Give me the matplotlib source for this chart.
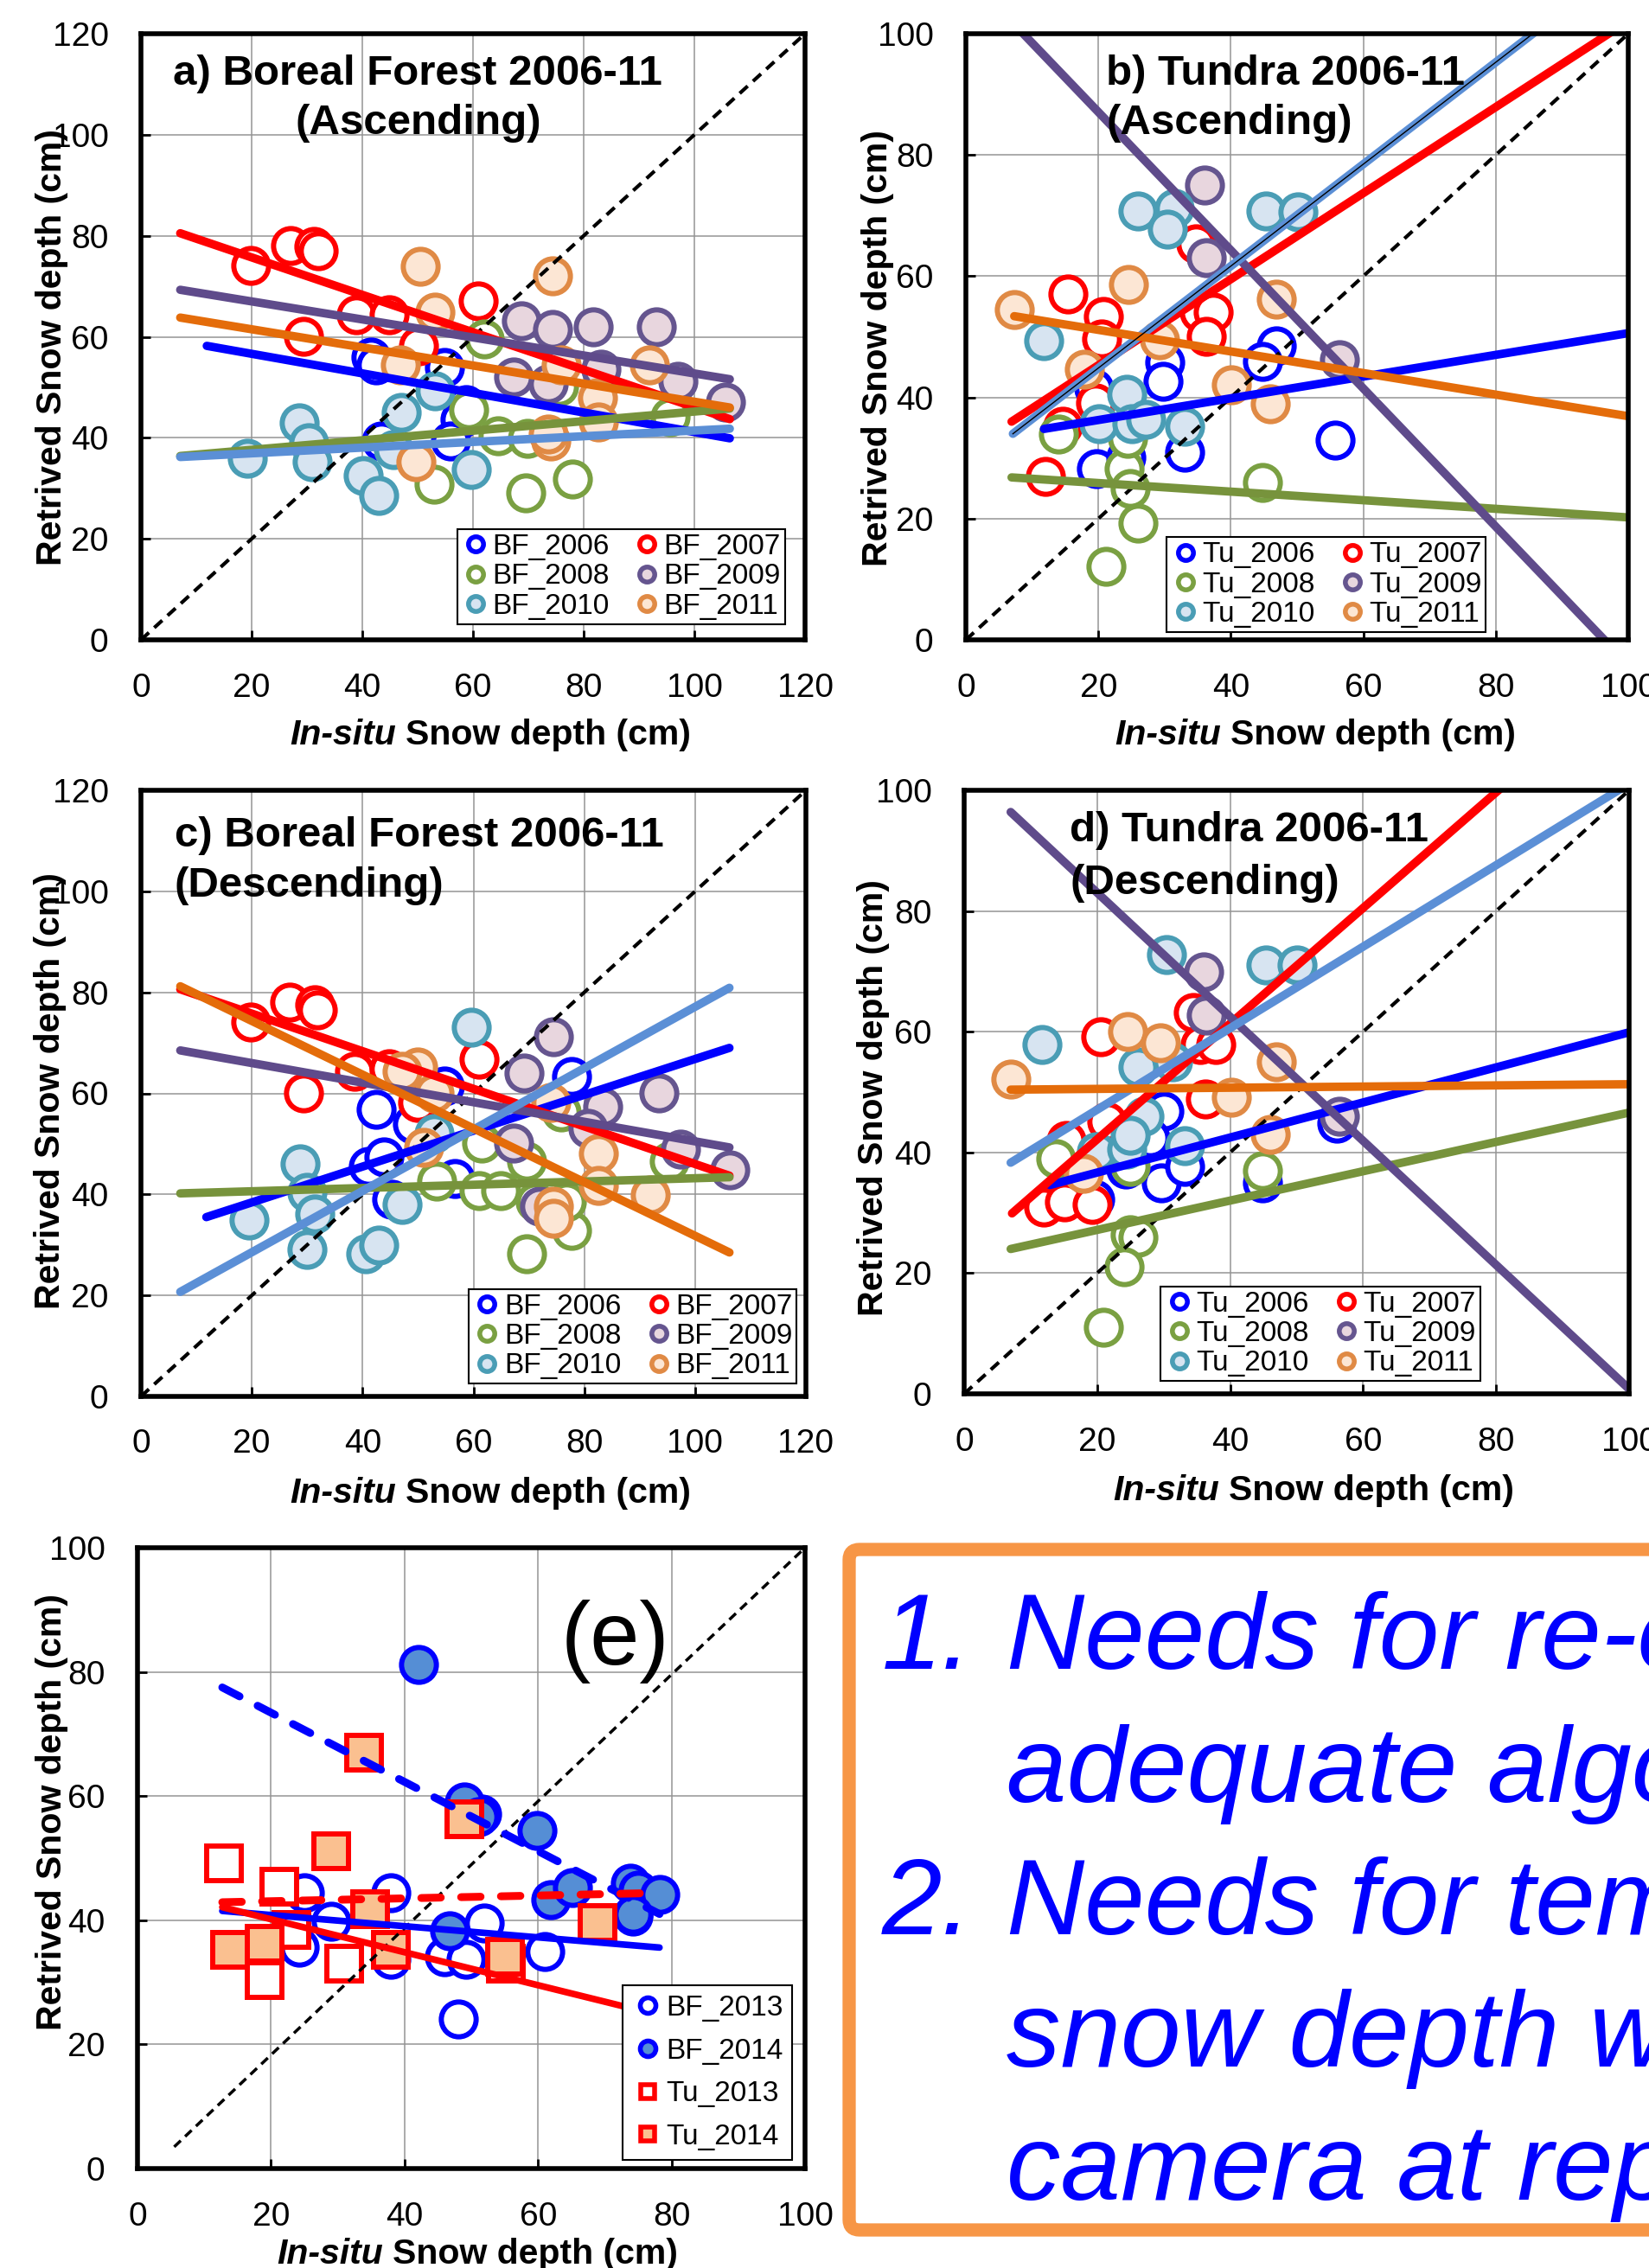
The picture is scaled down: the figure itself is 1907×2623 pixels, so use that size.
import matplotlib
matplotlib.use("Agg")
import matplotlib.pyplot as plt
from matplotlib.lines import Line2D
from matplotlib.patches import FancyBboxPatch
from matplotlib.transforms import IdentityTransform

plt.rcParams['font.family'] = ['Liberation Sans', 'DejaVu Sans']

W, H = 1907, 2623

# ---------------- data ----------------
YEARS = ['2006', '2007', '2008', '2009', '2010', '2011']

# a) Boreal Forest, ascending  (x = in-situ, y = retrieved)
A_BF2006 = [(41.5, 55.9), (42.5, 54.5), (54.9, 54.0), (58.8, 46.5), (57.6, 43.7), (55.9, 39.4), (43.4, 39.4)]
A_BF2007 = [(19.8, 74.2), (27.0, 78.1), (31.3, 77.9), (32.0, 77.0), (38.9, 64.3), (29.3, 60.1), (44.9, 64.3),
            (61.0, 67.1), (50.1, 58.2)]
A_BF2008 = [(62.1, 59.6), (59.2, 45.5), (64.5, 40.4), (69.8, 39.9), (75.5, 50.2), (53.0, 30.8), (69.6, 29.1),
            (77.9, 31.9), (95.6, 44.1)]
A_BF2009 = [(68.8, 63.1), (74.4, 61.5), (81.7, 62.0), (93.2, 62.0), (67.4, 52.1), (73.6, 50.7), (83.2, 53.5),
            (97.0, 51.2), (105.6, 47.0)]
A_BF2010 = [(28.6, 43.0), (30.3, 39.0), (31.0, 35.2), (19.2, 35.9), (40.1, 32.6), (43.0, 28.6), (47.0, 45.1),
            (53.2, 49.3), (59.7, 33.8), (45.6, 37.6)]
A_BF2011 = [(50.4, 73.9), (74.4, 72.0), (53.2, 64.8), (46.9, 54.5), (76.0, 54.5), (91.8, 54.5), (82.5, 47.9),
            (82.7, 43.2), (74.1, 39.4), (49.7, 35.2), (73.6, 40.8)]
A_FITS = [([11.9, 106.4], [58.2, 39.9]), ([7.1, 106.4], [80.5, 43.7]), ([7.1, 106.4], [36.4, 45.8]),
          ([7.1, 106.4], [69.3, 51.6]), ([7.1, 106.4], [36.2, 41.8]), ([7.1, 106.4], [63.8, 46.0])]

# b) Tundra, ascending
B_TU2006 = [(46.9, 48.5), (44.8, 46.0), (30.0, 45.8), (29.8, 42.6), (33.0, 30.9), (55.8, 33.0), (19.7, 28.2),
            (24.1, 30.1), (19.3, 41.5)]
B_TU2007 = [(15.4, 57.1), (20.7, 53.4), (20.5, 49.7), (12.0, 27.0), (14.6, 35.2), (19.6, 39.1), (34.7, 65.3),
            (35.3, 54.1), (37.3, 54.0), (36.3, 50.1)]
B_TU2008 = [(14.0, 34.0), (23.9, 28.2), (24.8, 25.0), (26.0, 19.2), (21.1, 12.1), (44.8, 26.0), (24.4, 33.3)]
B_TU2009 = [(36.0, 75.1), (36.3, 63.1), (56.4, 46.2)]
B_TU2010 = [(26.0, 70.8), (31.4, 71.2), (30.4, 67.7), (45.3, 70.8), (50.1, 70.6), (11.8, 49.3), (24.3, 40.5),
            (20.1, 35.6), (25.1, 35.6), (27.2, 36.4), (33.0, 35.2)]
B_TU2011 = [(7.3, 54.5), (24.6, 58.7), (29.3, 49.5), (17.9, 44.6), (46.9, 56.2), (40.1, 42.1), (45.9, 39.0)]
B_FITS = [([11.8, 100], [34.8, 50.6]), ([6.9, 100], [36.0, 102.1]), ([6.9, 100], [26.8, 20.2]),
          ([7.0, 97.0], [101.9, -0.7]), ([7.1, 90.0], [34.0, 103.7]), ([7.3, 100], [53.4, 36.9])]

# c) Boreal Forest, descending
C_BF2006 = [(42.4, 56.8), (54.8, 61.5), (49.0, 54.0), (41.0, 45.5), (43.8, 47.4), (56.7, 43.2), (45.3, 39.0),
            (77.7, 63.4)]
C_BF2007 = [(19.8, 74.2), (26.9, 78.1), (31.4, 77.5), (31.9, 76.5), (29.3, 60.1), (38.6, 64.3), (61.0, 66.7),
            (49.9, 58.2), (44.8, 64.8)]
C_BF2008 = [(61.5, 50.2), (53.4, 42.7), (61.0, 40.8), (64.9, 40.8), (69.6, 46.5), (71.1, 38.5), (69.6, 28.2),
            (77.7, 32.9), (76.8, 38.5), (95.4, 46.5), (75.8, 56.3)]
C_BF2009 = [(74.4, 71.2), (69.1, 64.0), (83.3, 57.3), (93.5, 60.1), (67.2, 50.2), (97.3, 49.0), (106.2, 44.9),
            (80.6, 53.1), (72.0, 37.6)]
C_BF2010 = [(59.6, 73.1), (28.7, 46.0), (30.0, 40.4), (31.4, 36.2), (19.5, 34.9), (30.0, 29.1), (40.5, 28.2),
            (42.9, 30.0), (47.2, 38.0), (52.9, 52.1)]
C_BF2011 = [(50.0, 65.3), (47.2, 64.3), (73.9, 58.2), (82.5, 48.1), (82.5, 41.8), (91.9, 39.9), (74.4, 37.6),
            (74.4, 35.2), (51.0, 49.3), (52.9, 60.1)]
C_FITS = [([11.8, 106.2], [35.5, 69.0]), ([7.1, 106.2], [80.6, 43.7]), ([7.1, 106.2], [40.2, 43.4]),
          ([7.1, 106.2], [68.5, 49.3]), ([7.1, 106.2], [20.7, 80.9]), ([7.1, 106.2], [81.2, 28.5])]

# d) Tundra, descending
D_TU2006 = [(30.1, 46.9), (27.9, 42.4), (24.3, 37.3), (19.7, 32.2), (29.7, 35.0), (33.1, 37.7), (44.9, 35.0),
            (56.0, 44.8)]
D_TU2007 = [(20.6, 59.2), (34.5, 63.2), (35.5, 57.9), (37.8, 57.9), (36.3, 48.9), (21.4, 45.2), (15.4, 42.0),
            (11.9, 31.0), (15.1, 31.8), (19.2, 31.4)]
D_TU2008 = [(13.8, 39.0), (25.0, 37.7), (25.0, 26.3), (26.2, 25.9), (24.0, 21.0), (20.9, 11.0), (44.9, 36.9)]
D_TU2009 = [(36.0, 69.9), (36.4, 62.8), (56.4, 46.0)]
D_TU2010 = [(11.7, 57.9), (30.4, 72.8), (45.4, 71.1), (50.0, 71.1), (26.1, 54.2), (31.3, 55.0), (27.0, 46.0),
            (19.9, 40.1), (24.4, 40.5), (33.1, 41.1), (25.0, 42.8)]
D_TU2011 = [(7.0, 52.1), (24.6, 60.1), (29.5, 58.1), (40.2, 49.1), (47.0, 55.0), (46.0, 43.0), (18.0, 36.5)]
D_FITS = [([12.9, 100], [34.6, 59.9]), ([7.2, 84.0], [29.9, 103.5]), ([7.0, 100], [24.0, 46.6]),
          ([7.0, 100], [96.4, 0.8]), ([7.0, 100], [38.3, 101.1]), ([7.0, 100], [50.4, 51.3])]

# e) 2013 / 2014
E_LABELS = ['BF_2013', 'BF_2014', 'Tu_2013', 'Tu_2014']
E_BF2013 = [(25.0, 44.4), (37.9, 44.4), (29.0, 39.8), (24.2, 35.6), (37.9, 33.7), (46.0, 34.1), (49.2, 33.7),
            (52.0, 39.5), (51.6, 57.1), (61.0, 34.9), (48.0, 24.1), (74.2, 40.6)]
E_BF2014 = [(42.1, 81.2), (49.0, 59.0), (51.2, 56.7), (59.9, 54.4), (46.8, 38.3), (61.9, 43.3), (65.1, 45.2),
            (73.8, 46.0), (75.0, 44.8), (78.2, 44.1), (74.2, 41.0)]
E_TU2013 = [(12.9, 49.2), (21.3, 45.4), (19.0, 30.3), (31.0, 33.0), (55.2, 33.0), (23.0, 38.5)]
E_TU2014 = [(34.0, 67.0), (49.0, 56.3), (29.0, 51.1), (13.9, 35.2), (19.0, 36.2), (34.9, 41.8), (37.9, 35.2),
            (55.0, 34.1), (68.9, 39.5)]
E_FITS = [([12.7, 78.2], [41.5, 35.6]), ([12.7, 78.2], [77.5, 41.0]),
          ([12.7, 78.2], [42.1, 24.7]), ([12.7, 78.2], [42.9, 44.4])]
E_DIAG = ([5.5, 100], [3.5, 100])

BOX_LINES = ['Needs for re-evaluating the', 'adequate algorithm', 'Needs for temporal',
             'snow depth with', 'camera at representative']
BOX_NUMS = ['1.', '', '2.', '', '']

# ---------------- styles ----------------
EDGE = ['#0000FF', '#FF0000', '#7AA042', '#65558F', '#4A9DB5', '#E08A45']
FACE = ['white', 'white', 'white', '#E8D6DE', '#D7E4F1', '#FCE6D4']
FIT_COLOR = ['#0000FF', '#FF0000', '#77933C', '#5F4B8B', '#5B8FD6', '#E46C0A']

TICK_FS = 28
LABEL_FS = 29.5
TITLE_FS = 35.5
LEG_FS = 24
MS, MEW = 29, 4.3


def rect(l, t, r, b):
    return [l / W, 1 - b / H, (r - l) / W, (b - t) / H]


def fx(x):
    return x / W


def fy(y):
    return 1 - y / H


def style_axes(ax, lim):
    ax.set_xlim(0, lim)
    ax.set_ylim(0, lim)
    ax.set_xticks(range(0, lim + 1, 20))
    ax.set_yticks(range(0, lim + 1, 20))
    ax.grid(True, color='#949494', lw=1.1)
    ax.set_axisbelow(True)
    for s in ax.spines.values():
        s.set_linewidth(4)
        s.set_color('black')
        s.set_zorder(6)
    ax.tick_params(direction='in', length=8, width=2, labelsize=TICK_FS, pad=27,
                   top=False, right=False)


def axis_labels(ax, ylab_xy, junction, xtop):
    fig = ax.figure
    fig.text(fx(ylab_xy[0]), fy(ylab_xy[1]), 'Retrived Snow depth (cm)', rotation=90,
             ha='center', va='center', fontsize=LABEL_FS, fontweight='bold')
    t1 = fig.text(fx(junction), fy(xtop), 'In-situ', ha='right', va='top',
                  fontsize=LABEL_FS, fontweight='bold', fontstyle='italic')
    ax.annotate('Snow depth (cm)', xy=(1, 1), xycoords=t1, xytext=(8, 0), textcoords='offset points',
                ha='left', va='top', fontsize=LABEL_FS, fontweight='bold', annotation_clip=False)


def year_panel(ax, lim, series, fits, prefix, leg_anchor, double_2010=False):
    style_axes(ax, lim)
    for pts, ec, fc in zip(series, EDGE, FACE):
        ax.plot([p[0] for p in pts], [p[1] for p in pts], ls='none', marker='o', ms=MS, mew=MEW,
                mec=ec, mfc=fc, zorder=3)
    ax.plot([0, lim], [0, lim], color='black', lw=3, dashes=(3, 2), zorder=3.5)
    for i, ((xs, ys), c) in enumerate(zip(fits, FIT_COLOR)):
        ax.plot(xs, ys, color=c, lw=7, solid_capstyle='round', zorder=4)
        if double_2010 and i == 4:
            ax.plot(xs, ys, color='black', lw=1.0, zorder=4.1)
    handles = [Line2D([], [], ls='none', marker='o', ms=12.5, mew=4, mec=ec, mfc=fc)
               for ec, fc in zip(EDGE, FACE)]
    labels = [prefix + y for y in YEARS]
    order = [0, 2, 4, 1, 3, 5]
    ax.legend([handles[i] for i in order], [labels[i] for i in order], ncol=2, loc='lower right',
              bbox_to_anchor=leg_anchor, fontsize=LEG_FS, frameon=True, fancybox=False,
              edgecolor='black', framealpha=1, borderpad=0.15, labelspacing=0.1,
              handlelength=1.0, handletextpad=0.08, columnspacing=0.8, borderaxespad=0)
    ax.get_legend().get_frame().set_linewidth(1.5)


fig = plt.figure(figsize=(W / 100, H / 100), dpi=100)

# panel a
ax_a = fig.add_axes(rect(163, 39, 931, 740))
year_panel(ax_a, 120, [A_BF2006, A_BF2007, A_BF2008, A_BF2009, A_BF2010, A_BF2011], A_FITS, 'BF_',
           (0.970, 0.026))
axis_labels(ax_a, (60, 402), 458, 831)
fig.text(fx(483), fy(98), 'a) Boreal Forest 2006-11', ha='center', va='baseline',
         fontsize=TITLE_FS, fontweight='bold')
fig.text(fx(484), fy(155), '(Ascending)', ha='center', va='baseline', fontsize=TITLE_FS, fontweight='bold')

# panel b
ax_b = fig.add_axes(rect(1117, 39, 1883, 740))
year_panel(ax_b, 100, [B_TU2006, B_TU2007, B_TU2008, B_TU2009, B_TU2010, B_TU2011], B_FITS, 'Tu_',
           (0.785, 0.013), double_2010=True)
axis_labels(ax_b, (1015, 403), 1412, 831)
fig.text(fx(1279), fy(98), 'b) Tundra 2006-11', ha='left', va='baseline', fontsize=TITLE_FS, fontweight='bold')
fig.text(fx(1279), fy(155), '(Ascending)', ha='left', va='baseline', fontsize=TITLE_FS, fontweight='bold')

# panel c
ax_c = fig.add_axes(rect(163, 914, 932, 1615))
year_panel(ax_c, 120, [C_BF2006, C_BF2007, C_BF2008, C_BF2009, C_BF2010, C_BF2011], C_FITS, 'BF_',
           (0.986, 0.021))
axis_labels(ax_c, (58, 1262), 458, 1708)
fig.text(fx(202), fy(979), 'c) Boreal Forest 2006-11', ha='left', va='baseline',
         fontsize=TITLE_FS, fontweight='bold')
fig.text(fx(202), fy(1037), '(Descending)', ha='left', va='baseline', fontsize=TITLE_FS, fontweight='bold')

# panel d
ax_d = fig.add_axes(rect(1115, 914, 1884, 1612))
year_panel(ax_d, 100, [D_TU2006, D_TU2007, D_TU2008, D_TU2009, D_TU2010, D_TU2011], D_FITS, 'Tu_',
           (0.776, 0.021))
axis_labels(ax_d, (1010, 1270), 1410, 1705)
fig.text(fx(1237), fy(973), 'd) Tundra 2006-11', ha='left', va='baseline', fontsize=TITLE_FS, fontweight='bold')
fig.text(fx(1237), fy(1034), '(Descending)', ha='left', va='baseline', fontsize=TITLE_FS, fontweight='bold')

# panel e
ax_e = fig.add_axes(rect(159, 1790, 931, 2508))
style_axes(ax_e, 100)
e_styles = [dict(marker='o', mec='#0000FF', mfc='white'),
            dict(marker='o', mec='#0000FF', mfc='#558ED5'),
            dict(marker='s', mec='#FF0000', mfc='white'),
            dict(marker='s', mec='#FF0000', mfc='#FAC090')]
for pts, st in zip([E_BF2013, E_BF2014, E_TU2013, E_TU2014], e_styles):
    ax_e.plot([p[0] for p in pts], [p[1] for p in pts], ls='none', ms=MS, mew=MEW, zorder=3, **st)
ax_e.plot(E_DIAG[0], E_DIAG[1], color='black', lw=2.5, dashes=(3, 2), zorder=3.5)
fit_styles = [dict(color='#0000FF', ls='-', lw=5.5), dict(color='#0000FF', dashes=(2.5, 2.6), lw=6.5),
              dict(color='#FF0000', ls='-', lw=5.5), dict(color='#FF0000', dashes=(2.5, 2.6), lw=6.5)]
for (xs, ys), st in zip(E_FITS, fit_styles):
    ax_e.plot(xs, ys, solid_capstyle='round', dash_capstyle='round', zorder=4, **st)
e_handles = [Line2D([], [], ls='none', ms=13 if st['marker'] == 'o' else 12, mew=4, **st) for st in e_styles]
leg = ax_e.legend(e_handles, E_LABELS, loc='lower right', bbox_to_anchor=(0.981, 0.014), fontsize=LEG_FS,
                  frameon=True, fancybox=False, edgecolor='black', framealpha=1, borderpad=0.33,
                  labelspacing=0.56, handlelength=1.1, handletextpad=0.07, borderaxespad=0)
leg.get_frame().set_linewidth(1.5)
axis_labels(ax_e, (60, 2096), 443, 2588)
fig.text(fx(711), fy(1925), '(e)', ha='center', va='baseline', fontsize=74)

# text box
box = FancyBboxPatch((982, H - 2579), 2200 - 982, 2579 - 1792, boxstyle='round,pad=0,rounding_size=12',
                     transform=IdentityTransform(), facecolor='white', edgecolor='#F79646', lw=11)
fig.add_artist(box)
baselines = [1930, 2084, 2237, 2390, 2544]
for num, line, yb in zip(BOX_NUMS, BOX_LINES, baselines):
    if num:
        fig.text(fx(1020), fy(yb), num, ha='left', va='baseline', fontsize=90, fontstyle='italic', color='#0000FF')
    fig.text(fx(1164), fy(yb), line, ha='left', va='baseline', fontsize=90, fontstyle='italic', color='#0000FF')

fig.savefig('out.png', dpi=100, facecolor='white')
